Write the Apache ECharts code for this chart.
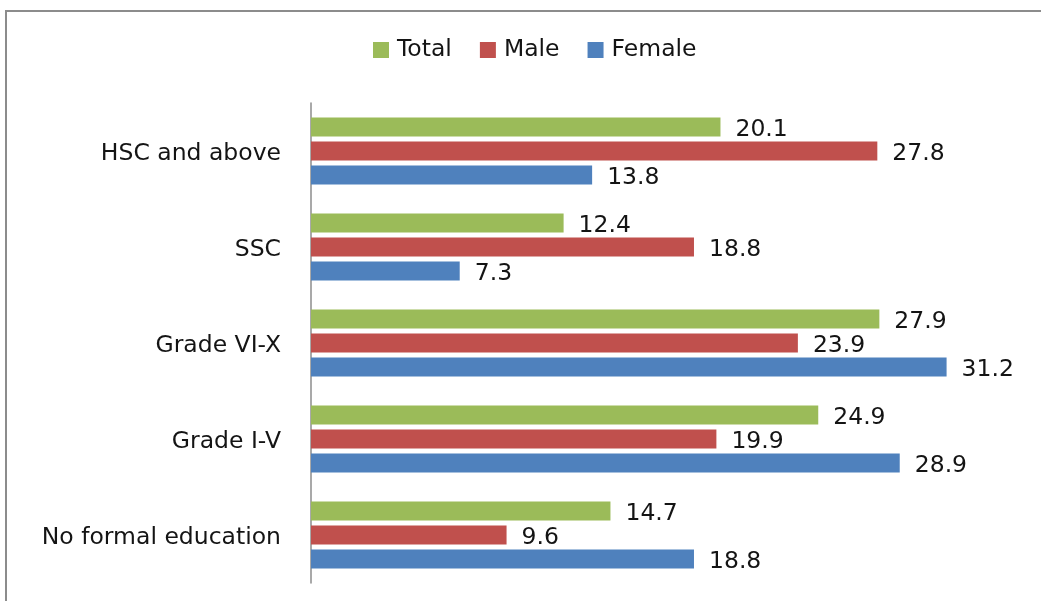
<!DOCTYPE html>
<html>
<head>
<meta charset="utf-8">
<script src="https://cdn.jsdelivr.net/npm/echarts@6/dist/echarts.min.js"></script>
<style>
  html, body { margin: 0; padding: 0; background: #ffffff; }
  #chart { width: 1041px; height: 601px; }
</style>
</head>
<body>
<div id="chart"></div>
<script>
// Education level categories, top to bottom
const categories = ['HSC and above', 'SSC', 'Grade VI-X', 'Grade I-V', 'No formal education'];
// Percentages per group
const totalValues  = [20.1, 12.4, 27.9, 24.9, 14.7];
const maleValues   = [27.8, 18.8, 23.9, 19.9, 9.6];
const femaleValues = [13.8, 7.3, 31.2, 28.9, 18.8];
const seriesNames = ['Total', 'Male', 'Female'];

const FONT = 'DejaVu Sans';
const FONT_SIZE = 23.5;
const TEXT_COLOR = '#141414';
const colors = ['#9BBB59', '#C0504D', '#4F81BD'];

function barSeries(name, data, color) {
  return {
    name: name,
    type: 'bar',
    data: data,
    barWidth: 19,
    barGap: '26%',
    itemStyle: { color: color },
    label: {
      show: true,
      position: 'right',
      distance: 15,
      offset: [0, 3],
      color: TEXT_COLOR,
      fontFamily: FONT,
      fontSize: FONT_SIZE,
      formatter: p => p.value.toFixed(1)
    }
  };
}

const chart = echarts.init(document.getElementById('chart'), null, { renderer: 'canvas' });
chart.setOption({
  animation: false,
  backgroundColor: '#ffffff',
  color: colors,
  graphic: [{
    type: 'rect',
    shape: { x: 6, y: 11, width: 1100, height: 700 },
    style: { fill: 'none', stroke: '#8c8c8c', lineWidth: 2 },
    silent: true
  }],
  legend: {
    data: seriesNames,
    top: 33,
    left: 368,
    itemWidth: 16,
    itemHeight: 16,
    itemGap: 28,
    icon: 'rect',
    textStyle: { fontFamily: FONT, fontSize: FONT_SIZE, color: TEXT_COLOR, padding: [0, 0, 0, 3] }
  },
  grid: { left: 311, right: 17, top: 103, bottom: 18, containLabel: false },
  xAxis: {
    type: 'value',
    min: 0,
    max: 35,
    show: false
  },
  yAxis: {
    type: 'category',
    data: categories,
    inverse: true,
    axisLine: { show: true, lineStyle: { color: '#8c8c8c', width: 1.5 } },
    axisTick: { show: false },
    axisLabel: {
      margin: 30,
      formatter: v => '{c|' + v + '}',
      rich: {
        c: {
          padding: [6, 0, 0, 0],
          color: TEXT_COLOR,
          fontFamily: FONT,
          fontSize: FONT_SIZE
        }
      }
    }
  },
  series: [
    barSeries(seriesNames[0], totalValues, colors[0]),
    barSeries(seriesNames[1], maleValues, colors[1]),
    barSeries(seriesNames[2], femaleValues, colors[2])
  ]
});
</script>
</body>
</html>
